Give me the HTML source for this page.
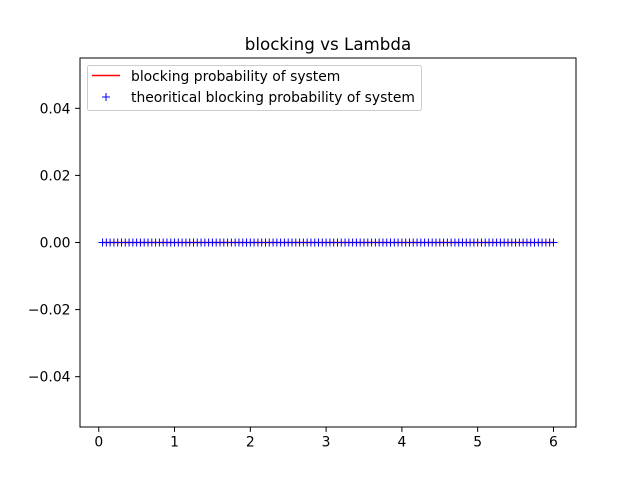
<!DOCTYPE html>
<html><head><meta charset="utf-8"><style>
body{margin:0;background:#fff}
svg{font-family:"DejaVu Sans","Liberation Sans",sans-serif}
</style></head><body>
<svg id="chart" width="640" height="480">
<rect x="0" y="0" width="640" height="480" fill="#fff"/>
<g id="marks"></g>
<g id="axes"></g>
</svg>
<script>
const lambdas = [];
for (let i = 1; i <= 120; i++) lambdas.push(+(i * 0.05).toFixed(2));
const simulated = lambdas.map(() => 0);
const theoretical = lambdas.map(() => 0);
const xTicks = [0, 1, 2, 3, 4, 5, 6];
const yTicks = [-0.04, -0.02, 0.00, 0.02, 0.04];
const yTickLabels = ["\u22120.04", "\u22120.02", "0.00", "0.02", "0.04"];

const L = 80, R = 576, T = 58, B = 427;
const xmin = -0.2475, xmax = 6.2975, ymin = -0.055, ymax = 0.055;
const sx = v => L + (v - xmin) / (xmax - xmin) * (R - L);
const sy = v => B - (v - ymin) / (ymax - ymin) * (B - T);
const NS = "http://www.w3.org/2000/svg";
function mk(tag, attrs, parent) { const e = document.createElementNS(NS, tag); for (const k in attrs) e.setAttribute(k, attrs[k]); parent.appendChild(e); return e; }
const marks = document.getElementById('marks'), axes = document.getElementById('axes');

const line = mk('polyline', {points: lambdas.map((x, i) => sx(x) + ',' + sy(simulated[i])).join(' '), fill: 'none', stroke: 'red', 'stroke-width': 1.5}, marks);


lambdas.forEach((x, i) => {
  const cx = sx(x), cy = sy(theoretical[i]);
  const p = mk('path', {d: `M${cx-4},${cy}H${cx+4}M${cx},${cy-4}V${cy+4}`, stroke: 'blue', 'stroke-width': 1, fill: 'none'}, marks);
  
  
});

const frame = mk('rect', {x: L, y: T, width: R - L, height: B - T, fill: 'none', stroke: '#000', 'stroke-width': 1}, axes);


xTicks.forEach(v => {
  const x = sx(v);
  mk('line', {x1: x, x2: x, y1: B, y2: B + 4.9, stroke: '#000', 'stroke-width': 1}, axes);
  const t = mk('text', {x: x, y: B + 19.5, 'text-anchor': 'middle', 'font-size': 13.9}, axes);
  t.textContent = v;
  
  
});
yTicks.forEach((v, i) => {
  const y = sy(v);
  mk('line', {x1: L - 4.9, x2: L, y1: y, y2: y, stroke: '#000', 'stroke-width': 1}, axes);
  const t = mk('text', {x: L - 9.5, y: y + 5, 'text-anchor': 'end', 'font-size': 13.9}, axes);
  t.textContent = yTickLabels[i];
  
  
});
const title = mk('text', {x: (L + R) / 2, y: T - 8, 'text-anchor': 'middle', 'font-size': 16.7}, axes);
title.textContent = 'blocking vs Lambda';



const lg = mk('g', {}, axes);


mk('rect', {x: 87.5, y: 65.5, width: 334, height: 45, rx: 2, fill: '#fff', 'fill-opacity': 0.8, stroke: '#ccc', 'stroke-width': 1}, lg);
mk('line', {x1: 92, x2: 120, y1: 75.5, y2: 75.5, stroke: 'red', 'stroke-width': 1.5}, lg);
const l1 = mk('text', {x: 131, y: 81, 'font-size': 13.9}, lg);
l1.textContent = 'blocking probability of system';


mk('path', {d: 'M102,97H110M106,93V101', stroke: 'blue', 'stroke-width': 1}, lg);
const l2 = mk('text', {x: 131, y: 102, 'font-size': 13.9}, lg);
l2.textContent = 'theoritical blocking probability of system';


</script>
</body></html>
